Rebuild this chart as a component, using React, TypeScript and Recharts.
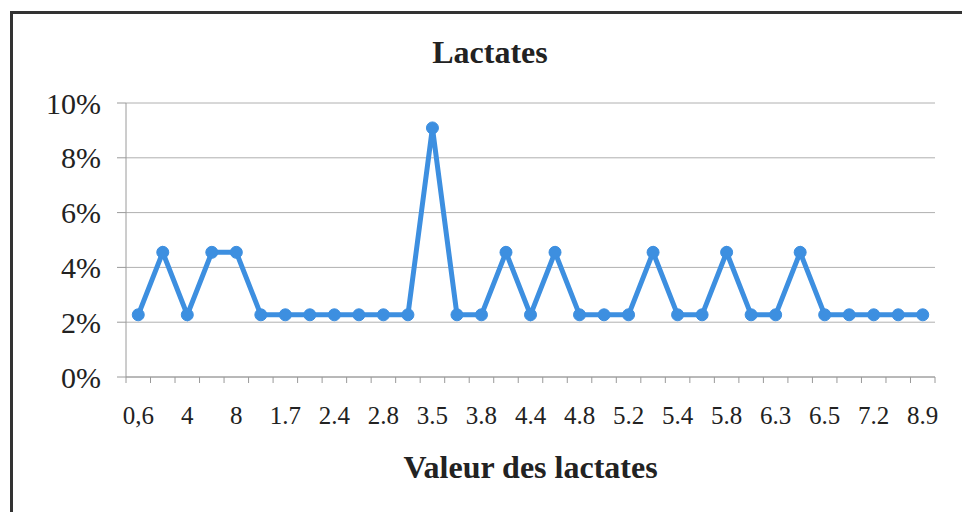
import React from 'react';
import { LineChart, Line, XAxis, YAxis, CartesianGrid } from 'recharts';

const categories = [
  '0,6', '1', '4', '6', '8', '1.5', '1.7', '2', '2.4', '2.6', '2.8', '3',
  '3.5', '3.6', '3.8', '4.1', '4.4', '4.6', '4.8', '5', '5.2', '5.3', '5.4', '5.6',
  '5.8', '6.1', '6.3', '6.4', '6.5', '7', '7.2', '7.8', '8.9',
];
const percentages = [
  2.27, 4.55, 2.27, 4.55, 4.55, 2.27, 2.27, 2.27, 2.27, 2.27, 2.27, 2.27,
  9.09, 2.27, 2.27, 4.55, 2.27, 4.55, 2.27, 2.27, 2.27, 4.55, 2.27, 2.27,
  4.55, 2.27, 2.27, 4.55, 2.27, 2.27, 2.27, 2.27, 2.27,
];
const yTicks = [0, 2, 4, 6, 8, 10];

const data = categories.map((name, i) => ({ name, value: percentages[i] }));

const FONT = '"Liberation Serif", "Times New Roman", serif';
const LINE_COLOR = '#3d8fe0';
const AXIS_COLOR = '#9a9a9a';
const HALF_STEP = 809 / 33 / 2;

const XTick = (props: any) => {
  const { x, y, payload, index } = props;
  const isLast = index === categories.length - 1;
  return (
    <g>
      <line x1={x - HALF_STEP} x2={x - HALF_STEP} y1={y} y2={y + 6} stroke={AXIS_COLOR} strokeWidth={1} />
      {isLast && (
        <line x1={x + HALF_STEP} x2={x + HALF_STEP} y1={y} y2={y + 6} stroke={AXIS_COLOR} strokeWidth={1} />
      )}
      {index % 2 === 0 && (
        <text x={x} y={y + 29} dy="0.71em" textAnchor="middle" fontFamily={FONT} fontSize={25} fill="#222">
          {payload.value}
        </text>
      )}
    </g>
  );
};

export default function App() {
  return (
    <div style={{ position: 'absolute', left: 0, top: 0, width: 962, height: 512, background: '#fff', overflow: 'hidden' }}>
      <div style={{ position: 'absolute', left: 10, top: 11, width: 952, height: 3, background: '#333' }} />
      <div style={{ position: 'absolute', left: 10, top: 11, width: 3, height: 501, background: '#333' }} />
      <div
        style={{
          position: 'absolute', left: 0, top: 33, width: 980, textAlign: 'center',
          fontFamily: FONT, fontWeight: 'bold', fontSize: 32, color: '#222', lineHeight: '38px',
        }}
      >
        Lactates
      </div>
      <div
        style={{
          position: 'absolute', left: 126, top: 448, width: 809, textAlign: 'center',
          fontFamily: FONT, fontWeight: 'bold', fontSize: 32, color: '#222', lineHeight: '38px',
        }}
      >
        Valeur des lactates
      </div>
      <div style={{ position: 'absolute', left: 0, top: 0 }}>
        <LineChart width={962} height={512} data={data} margin={{ top: 103, right: 27, bottom: 75, left: 0 }}>
          <CartesianGrid horizontal={true} vertical={false} stroke="#b0b0b0" strokeWidth={1} />
          <XAxis
            dataKey="name"
            interval={0}
            tickSize={0}
            tickMargin={0}
            tickLine={false}
            padding={{ left: HALF_STEP, right: HALF_STEP }}
            axisLine={{ stroke: AXIS_COLOR }}
            height={60}
            tick={<XTick />}
          />
          <YAxis
            width={126}
            domain={[0, 10]}
            ticks={yTicks}
            tickFormatter={(v: number) => `${v}%`}
            tickSize={9}
            tickMargin={16}
            axisLine={{ stroke: AXIS_COLOR }}
            tickLine={{ stroke: AXIS_COLOR }}
            tick={{ fontFamily: FONT, fontSize: 30, fill: '#222' }}
          />
          <Line
            type="linear"
            dataKey="value"
            stroke={LINE_COLOR}
            strokeWidth={5}
            dot={{ r: 6, fill: LINE_COLOR, stroke: LINE_COLOR, strokeWidth: 1 }}
            isAnimationActive={false}
          />
        </LineChart>
      </div>
    </div>
  );
}
